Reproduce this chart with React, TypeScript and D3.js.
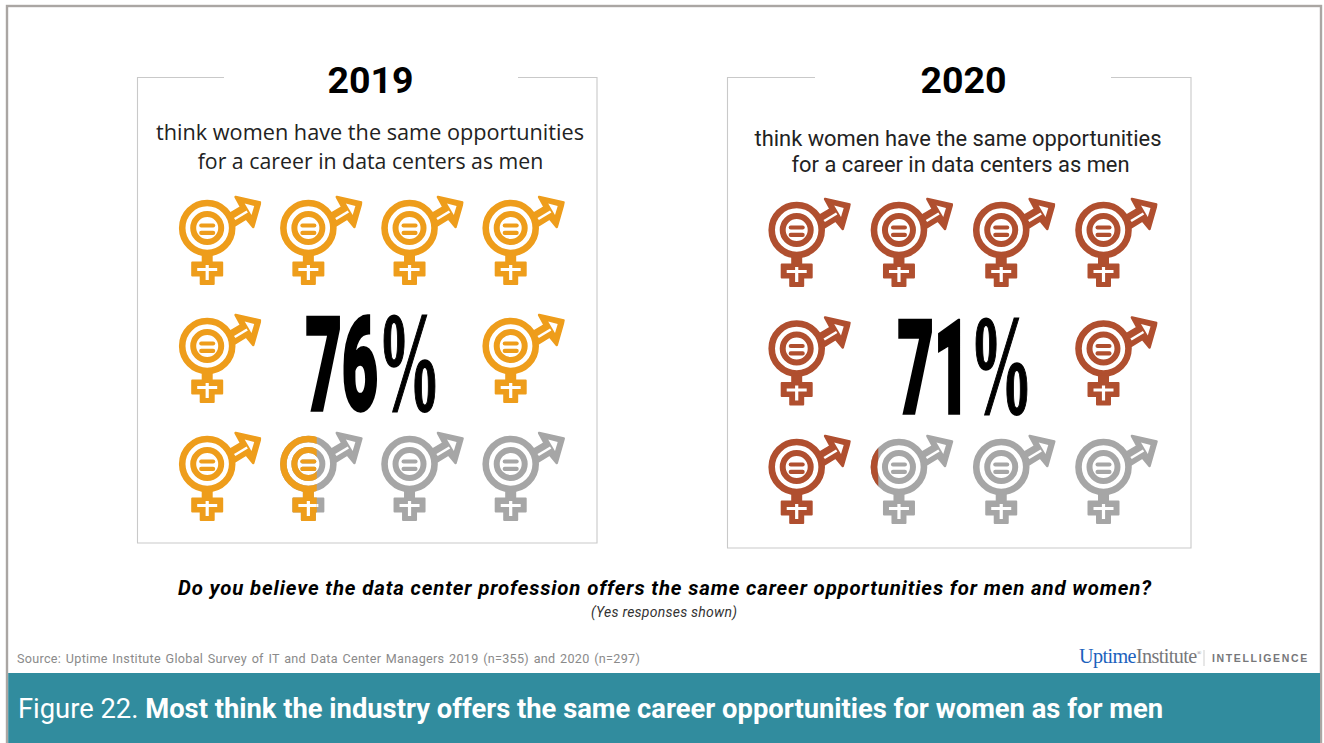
import React from "react";
import * as d3 from "d3";

const years = ["2019", "2020"];
const percentLabels = ["76", "71"];
const filledIcons = [7.45, 7.1];
const panelColors = ["#ee9d1b", "#b04f2f"];
const emptyColor = "#a6a6a6";
const iconSlots = [0, 1, 2, 3, 4, null, null, 5, 6, 7, 8, 9];
const subtitleLines = ["think women have the same opportunities", "for a career in data centers as men"];
const question = "Do you believe the data center profession offers the same career opportunities for men and women?";
const note = "(Yes responses shown)";
const source = "Source: Uptime Institute Global Survey of IT and Data Center Managers 2019 (n=355) and 2020 (n=297)";
const figureLabel = "Figure 22. ";
const figureTitle = "Most think the industry offers the same career opportunities for women as for men";

const panels = [
  { x0: 137.5, x1: 597, y0: 77.5, y1: 543, gap: [224, 518], cols: [207.2, 510.7], rows: [228, 464], title: 370.5, big: 305.5, sub: { x: [370, 370.5], y: [140, 169], font: "'Open Sans'", size: 21.7, second: 21.3 } },
  { x0: 727.5, x1: 1191, y0: 77.5, y1: 548, gap: [815, 1111], cols: [796.7, 1103.5], rows: [230, 467], title: 963.5, big: 897.5, sub: { x: [958, 960.5], y: [146, 172], font: "Roboto", size: 21.9, second: 21.9 } },
];

const ICON_EXTENT: [number, number] = [-29, 54];

function Icon({ color }: { color: string }) {
  return (
    <g>
      <circle r={25} fill="none" stroke={color} strokeWidth={6.6} />
      <circle r={14} fill="none" stroke={color} strokeWidth={6} />
      <rect x={-8} y={-4.6} width={16} height={4.2} rx={2} fill={color} />
      <rect x={-8} y={2.8} width={16} height={4.2} rx={2} fill={color} />
      <path d="M-4.5 26H4.5V34.5H15V47.5H6.5V56H-6.5V47.5H-15V34.5H-4.5Z" fill={color} stroke={color} strokeWidth={2} strokeLinejoin="round" />
      <path d="M28.5 -31L53 -25.5L46 -1L39 -9.5L26 -1.5L20.5 -13L34 -21Z" fill={color} stroke={color} strokeWidth={2.6} strokeLinejoin="round" />
      <path d="M0 37V52M-10 41.5H10" stroke="#fff" strokeWidth={3.2} fill="none" />
      <path d="M27.5 -9L40 -16.5" stroke="#fff" strokeWidth={2.6} fill="none" />
      <path d="M37.5 -24.5L47 -22L44.3 -13Z" fill="#fff" />
    </g>
  );
}

export default function App() {
  const slotX = d3.scaleLinear().domain([0, 1]).range(ICON_EXTENT);
  return (
    <svg width={1324} height={743} style={{ position: "absolute", left: 0, top: 0, background: "#fff" }}>
      <rect x={7} y={6} width={1314} height={760} fill="#fff" stroke="#aaa6a3" strokeWidth={2.4} />
      {panels.map((p, pi) => {
        const col = d3.scaleLinear().domain([0, 3]).range(p.cols);
        const row = d3.scaleLinear().domain([0, 2]).range(p.rows);
        const base = row(1) + 64;
        return (
          <g key={years[pi]}>
            <path
              d={`M${p.gap[0]} ${p.y0}H${p.x0}V${p.y1}H${p.x1}V${p.y0}H${p.gap[1]}`}
              fill="none"
              stroke="#c9c9c9"
              strokeWidth={1.1}
            />
            <text x={p.title} y={93} textAnchor="middle" fontFamily="Roboto" fontWeight={700} fontSize={37.5} fill="#000">
              {years[pi]}
            </text>
            {subtitleLines.map((l, i) => (
              <text key={l} x={p.sub.x[i]} y={p.sub.y[i]} textAnchor="middle" fontFamily={p.sub.font} fontSize={i === 0 ? p.sub.size : p.sub.second} fill="#222">
                {l}
              </text>
            ))}
            {iconSlots.map((slot, i) => {
              if (slot === null) return null;
              const x = col(i % 4);
              const y = row(Math.floor(i / 4));
              const frac = Math.max(0, Math.min(1, filledIcons[pi] - slot));
              const id = `clip-${pi}-${slot}`;
              const clipX = slotX(frac);
              return (
                <g key={i} transform={`translate(${x},${y})`}>
                  <clipPath id={id}>
                    <rect x={-40} y={-50} width={clipX + 40} height={120} />
                  </clipPath>
                  {frac < 1 && <Icon color={emptyColor} />}
                  {frac > 0 && (
                    <g clipPath={`url(#${id})`}>
                      <Icon color={panelColors[pi]} />
                    </g>
                  )}
                </g>
              );
            })}
            <text
              transform={`translate(${p.big},${base}) scale(0.485,1)`}
              fontFamily="Roboto"
              fontWeight={900}
              fontSize={129}
              fill="#000"
              stroke="#000"
              strokeWidth={2.6}
              style={{ vectorEffect: "non-scaling-stroke" }}
            >
              {percentLabels[pi]}
            </text>
            <text
              transform={`translate(${p.big + 72},${base}) scale(0.45,1)`}
              fontFamily="'Liberation Sans Narrow'"
              fontWeight={700}
              fontSize={141}
              fill="#000"
              stroke="#000"
              strokeWidth={1.4}
              style={{ vectorEffect: "non-scaling-stroke" }}
            >
              %
            </text>
          </g>
        );
      })}
      <text x={178} y={595} fontFamily="Roboto" fontStyle="italic" fontWeight={700} fontSize={20.4} textLength={973} fill="#000">
        {question}
      </text>
      <text x={591} y={617} fontFamily="Roboto" fontStyle="italic" fontSize={14} textLength={146} fill="#333">
        {note}
      </text>
      <text x={17} y={663} fontFamily="Roboto" fontSize={12.6} fill="#8a8a8a" letterSpacing={0.3} wordSpacing={1.2}>
        {source}
      </text>
      <text x={1079} y={663} fontFamily="'Liberation Serif'" fontSize={20.2} letterSpacing={-0.6}>
        <tspan fill="#1c62bd">Uptime</tspan>
        <tspan fill="#77777a">Institute</tspan>
        <tspan fill="#77777a" fontSize={6} dy={-8}>®</tspan>
      </text>
      <line x1={1204} x2={1204} y1={650} y2={666} stroke="#cfcfcf" />
      <text x={1212} y={662} fontFamily="'Liberation Sans'" fontWeight={700} fontSize={10.5} letterSpacing={1.65} fill="#77777a">
        INTELLIGENCE
      </text>
      <rect x={8.2} y={673} width={1311.8} height={70} fill="#318c9e" />
      <text x={18} y={718} fontFamily="Roboto" fontSize={27.35} fill="#fff">
        {figureLabel}
        <tspan fontWeight={700}>{figureTitle}</tspan>
      </text>
    </svg>
  );
}
